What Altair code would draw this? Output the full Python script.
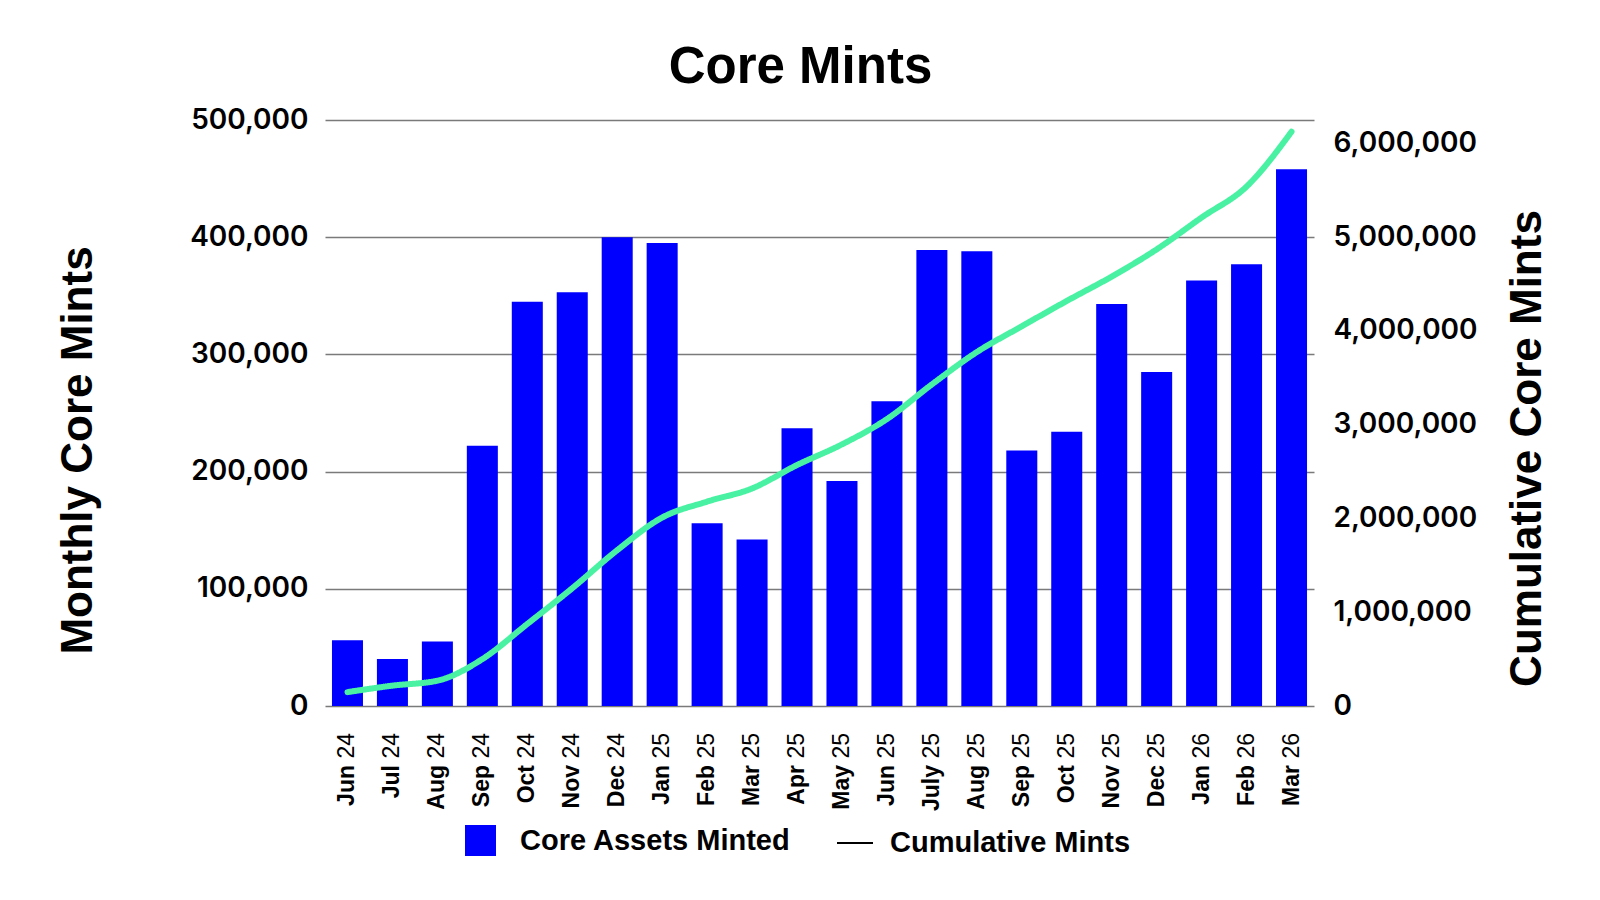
import altair as alt
import pandas as pd

# ---- data ----
months = ["Jun 24", "Jul 24", "Aug 24", "Sep 24", "Oct 24", "Nov 24", "Dec 24",
          "Jan 25", "Feb 25", "Mar 25", "Apr 25", "May 25", "Jun 25", "July 25",
          "Aug 25", "Sep 25", "Oct 25", "Nov 25", "Dec 25", "Jan 26", "Feb 26", "Mar 26"]
monthly_mints = [56000, 40000, 55000, 222000, 345000, 353000, 400000,
                 395000, 156000, 142000, 237000, 192000, 260000, 389000,
                 388000, 218000, 234000, 343000, 285000, 363000, 377000, 458000]
cumulative_mints = [148000, 217000, 270000, 500000, 875000, 1256000, 1662000,
                    2010000, 2180000, 2320000, 2570000, 2790000, 3060000, 3430000,
                    3775000, 4050000, 4320000, 4580000, 4870000, 5210000, 5540000, 6125000]
left_ticks = [0, 100000, 200000, 300000, 400000, 500000]
right_ticks = [0, 1000000, 2000000, 3000000, 4000000, 5000000, 6000000]
bar_name = "Core Assets Minted"
line_name = "Cumulative Mints"

df = pd.DataFrame({"month": months, "monthly": monthly_mints, "cumulative": cumulative_mints})
df["mon"] = df["month"].str.split(" ").str[0]
df["yr"] = df["month"].str.split(" ").str[1]
df["bar_series"] = bar_name
df["line_series"] = line_name

W, H = 989, 586
SANS = "Liberation Sans"
NUM = "Inter"

x = alt.X("month:N", sort=months, axis=None,
          scale=alt.Scale(paddingInner=0.31, paddingOuter=0.155))

base = alt.Chart(df)

bars = base.mark_bar().encode(
    x=x,
    y=alt.Y("monthly:Q",
            scale=alt.Scale(domain=[0, 500000], nice=False),
            axis=alt.Axis(values=left_ticks, format=",d", title="Monthly Core Mints",
                          grid=True, gridColor="#7a7a7a", gridWidth=1.6,
                          domain=False, ticks=False, labelPadding=17,
                          labelFont=NUM, labelFontSize=28, labelFontWeight=600,
                          labelColor="#000000",
                          titleFont=SANS, titleFontSize=44, titleFontWeight="bold",
                          titleColor="#000000", titleAngle=270, titleX=-234, titleY=330,
                          titleAlign="center", titleBaseline="alphabetic")),
    color=alt.Color("bar_series:N",
                    scale=alt.Scale(domain=[bar_name], range=["#0000FF"]),
                    legend=alt.Legend(title=None, orient="none", legendX=140, legendY=705,
                                      padding=0, symbolType="square", symbolSize=961,
                                      symbolStrokeWidth=0, labelFont=SANS, labelFontSize=29,
                                      labelFontWeight="bold", labelColor="#000000",
                                      labelOffset=24, labelLimit=500)),
)

line = base.mark_line(color="#48F2A2", strokeWidth=6, strokeCap="round",
                      strokeJoin="round", interpolate="monotone").encode(
    x=x,
    y=alt.Y("cumulative:Q",
            scale=alt.Scale(domain=[0, 6250000], nice=False),
            axis=alt.Axis(orient="right", values=right_ticks, format=",d",
                          title="Cumulative Core Mints", grid=False, domain=False,
                          ticks=False, labelPadding=19,
                          labelFont=NUM, labelFontSize=28, labelFontWeight=600,
                          labelColor="#000000",
                          titleFont=SANS, titleFontSize=44, titleFontWeight="bold",
                          titleColor="#000000", titleAngle=270, titleX=226, titleY=328,
                          titleAlign="center", titleBaseline="alphabetic")),
    strokeDash=alt.StrokeDash("line_series:N",
                              scale=alt.Scale(domain=[line_name], range=[[1, 0]]),
                              legend=alt.Legend(title=None, orient="none", legendX=511,
                                                legendY=704, padding=0, symbolType="stroke",
                                                symbolSize=1296, symbolStrokeColor="#000000",
                                                symbolStrokeWidth=2, labelFont=SANS,
                                                labelFontSize=29, labelFontWeight="bold",
                                                labelColor="#000000", labelOffset=16,
                                                labelLimit=500)),
)

mon_text = base.mark_text(angle=270, align="right", baseline="middle", font=SANS,
                          fontSize=23, fontWeight="bold", color="#000000").encode(
    x=x, y=alt.value(645), text="mon:N")

yr_text = base.mark_text(angle=270, align="left", baseline="middle", font=SANS,
                         fontSize=23, fontWeight="normal", color="#000000").encode(
    x=x, y=alt.value(638.5), text="yr:N")

chart = alt.layer(bars, line, mon_text, yr_text).resolve_scale(
    y="independent", color="independent", strokeDash="independent"
).properties(
    width=W, height=H,
    title=alt.TitleParams("Core Mints", font=SANS, fontSize=51, fontWeight="bold",
                          color="#000000", anchor="middle", frame="group",
                          offset=-28, baseline="alphabetic", dx=-19),
    autosize=alt.AutoSizeParams(type="none"),
    padding={"left": 317, "top": 112, "right": 270, "bottom": 175},
    background="white",
).configure_view(stroke=None)

chart.save("out.html", embed_options={"renderer": "svg", "actions": False})
